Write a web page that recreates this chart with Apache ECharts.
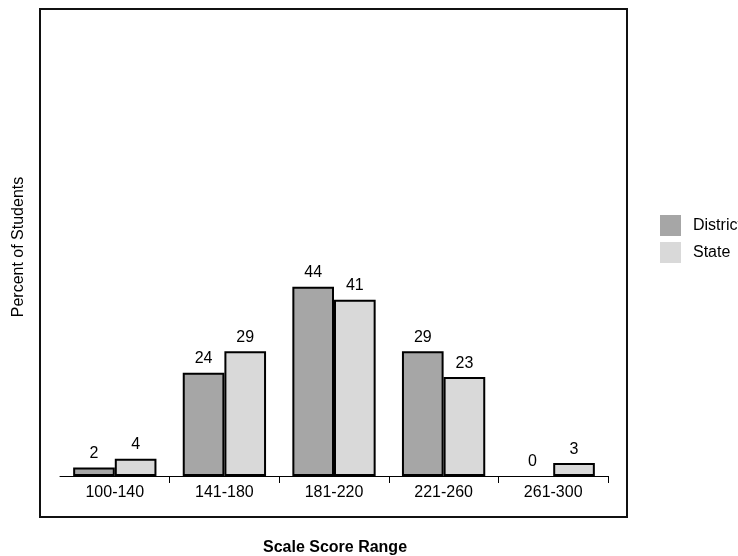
<!DOCTYPE html>
<html>
<head>
<meta charset="utf-8">
<script src="https://cdn.jsdelivr.net/npm/echarts@6/dist/echarts.min.js"></script>
<style>
html,body{margin:0;padding:0;background:#fff;}
#chart{width:738px;height:556px;}
</style>
</head>
<body>
<div id="chart"></div>
<script>
const categories = ['100-140', '141-180', '181-220', '221-260', '261-300'];
const districtValues = [2, 24, 44, 29, 0];
const stateValues = [4, 29, 41, 23, 3];
const seriesNames = ['District', 'State'];
const xTitle = 'Scale Score Range';
const yTitle = 'Percent of Students';

const FONT = '"Liberation Sans", Arial, sans-serif';
const chart = echarts.init(document.getElementById('chart'));

const labelCfg = {
  show: true, position: 'top', distance: 6,
  color: '#000', fontSize: 16, fontFamily: FONT
};
// zero-height bars show no outline
const toData = arr => arr.map(v => v === 0 ? { value: v, itemStyle: { borderWidth: 0 } } : v);

chart.setOption({
  animation: false,
  backgroundColor: '#fff',
  textStyle: { fontFamily: FONT },
  grid: { left: 60, right: 130, top: 46, bottom: 80 },
  legend: {
    orient: 'vertical', left: 660, top: 215, padding: 0,
    itemWidth: 21, itemHeight: 21, itemGap: 6,
    icon: 'rect',
    itemStyle: { borderWidth: 0 },
    textStyle: { color: '#000', fontSize: 16, fontFamily: FONT, padding: [0, 0, 0, 7] },
    data: seriesNames
  },
  xAxis: {
    type: 'category', data: categories,
    axisLine: { show: true, lineStyle: { color: '#000', width: 1 } },
    axisTick: { show: true, length: 7, lineStyle: { color: '#000' },
      interval: function (i) { return i !== 0; } },
    axisLabel: { color: '#000', fontSize: 16, fontFamily: FONT, margin: 9 },
    splitLine: { show: false }
  },
  yAxis: { type: 'value', min: 0, max: 100, show: false, splitLine: { show: false } },
  series: [
    {
      name: seriesNames[0], type: 'bar', data: toData(districtValues),
      barGap: '0%', barCategoryGap: '24%',
      itemStyle: { color: '#a6a6a6', borderColor: '#000', borderWidth: 2 },
      label: labelCfg
    },
    {
      name: seriesNames[1], type: 'bar', data: toData(stateValues),
      barGap: '0%', barCategoryGap: '24%',
      itemStyle: { color: '#d9d9d9', borderColor: '#000', borderWidth: 2 },
      label: labelCfg
    }
  ],
  graphic: [
    { type: 'rect', shape: { x: 40, y: 9, width: 587, height: 508 },
      style: { fill: 'none', stroke: '#111', lineWidth: 2 }, silent: true, z: 100 },
    { type: 'text', x: 335, y: 548,
      style: { text: xTitle, fill: '#000', font: 'bold 16px ' + FONT,
        textAlign: 'center', textVerticalAlign: 'middle' } },
    { type: 'text', x: 19, y: 247, rotation: Math.PI / 2,
      style: { text: yTitle, fill: '#000', font: '16px ' + FONT,
        textAlign: 'center', textVerticalAlign: 'middle' } }
  ]
});
</script>
</body>
</html>
